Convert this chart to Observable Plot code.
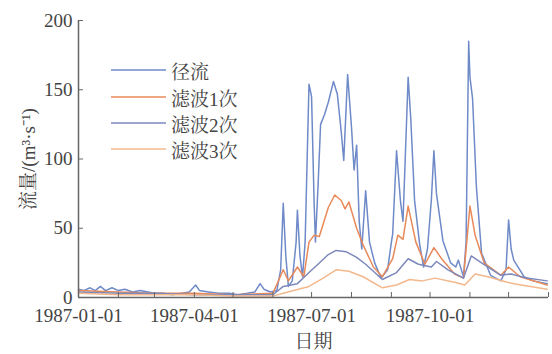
<!DOCTYPE html>
<html>
<head>
<meta charset="utf-8">
<script src="https://cdn.jsdelivr.net/npm/d3@7"></script>
<script src="https://cdn.jsdelivr.net/npm/@observablehq/plot@0.6"></script>
<style>
  html, body { margin: 0; padding: 0; background: #fff; }
  #wrap { position: relative; width: 552px; height: 354px; overflow: hidden; }
  #legend { position: absolute; left: 0; top: 0; width: 552px; font-family: 'Liberation Serif', 'Noto Serif CJK SC', serif; font-size: 19px; color: #444; }
  .item { position: absolute; display: flex; align-items: center; height: 24px; white-space: nowrap; }
  .item svg { margin-right: 5px; }
</style>
</head>
<body>
<div id="wrap"><div id="legend"></div></div>
<script>
// ---- data ----
const seriesNames = ["径流", "滤波1次", "滤波2次", "滤波3次"];
const seriesColors = ["#6f8ac8", "#e8895a", "#7d88bb", "#f3b88c"];

const runoffDates = ["1987-01-01","1987-01-05","1987-01-10","1987-01-14","1987-01-18","1987-01-22","1987-01-27","1987-02-01","1987-02-06","1987-02-12","1987-02-18","1987-02-24","1987-03-01","1987-03-08","1987-03-15","1987-03-22","1987-03-28","1987-04-02","1987-04-05","1987-04-12","1987-04-20","1987-04-28","1987-05-05","1987-05-12","1987-05-18","1987-05-22","1987-05-25","1987-05-30","1987-06-04","1987-06-07","1987-06-09","1987-06-11","1987-06-13","1987-06-16","1987-06-19","1987-06-20","1987-06-22","1987-06-24","1987-06-26","1987-06-29","1987-07-01","1987-07-03","1987-07-04","1987-07-06","1987-07-08","1987-07-11","1987-07-14","1987-07-18","1987-07-21","1987-07-24","1987-07-26","1987-07-29","1987-08-01","1987-08-03","1987-08-05","1987-08-07","1987-08-09","1987-08-12","1987-08-15","1987-08-19","1987-08-24","1987-08-29","1987-09-01","1987-09-02","1987-09-05","1987-09-08","1987-09-10","1987-09-14","1987-09-16","1987-09-19","1987-09-23","1987-09-26","1987-09-29","1987-10-02","1987-10-04","1987-10-06","1987-10-11","1987-10-17","1987-10-21","1987-10-23","1987-10-27","1987-10-29","1987-10-31","1987-11-01","1987-11-03","1987-11-06","1987-11-10","1987-11-17","1987-11-25","1987-11-29","1987-12-01","1987-12-03","1987-12-05","1987-12-13","1987-12-20","1987-12-31"];
const runoffValues = [6,5,7,5,8,5,7,5,6,4,5,4,3,3,2,3,4,9,5,4,3,3,2,3,4,10,6,4,5,20,68,30,8,12,40,63,30,15,40,154,145,68,40,80,125,132,141,156,147,120,99,161,123,92,110,55,35,77,40,25,14,20,40,46,106,70,55,159,130,70,38,22,35,70,106,75,41,25,22,27,15,40,185,159,144,80,32,16,12,20,56,35,27,15,12,10];

const filter1Dates = ["1987-01-01","1987-02-01","1987-03-01","1987-04-01","1987-05-01","1987-06-01","1987-06-09","1987-06-13","1987-06-20","1987-06-25","1987-06-29","1987-07-03","1987-07-07","1987-07-14","1987-07-19","1987-07-24","1987-07-27","1987-07-30","1987-08-05","1987-08-10","1987-08-18","1987-08-25","1987-09-02","1987-09-06","1987-09-10","1987-09-14","1987-09-20","1987-09-27","1987-10-04","1987-10-10","1987-10-20","1987-10-27","1987-11-01","1987-11-05","1987-11-12","1987-11-25","1987-12-01","1987-12-10","1987-12-31"];
const filter1Values = [5,4,3,3,2,3,20,12,22,15,40,45,44,65,74,70,64,69,50,38,22,15,28,45,42,66,40,24,36,28,17,14,66,45,25,16,22,15,9];

const filter2Dates = ["1987-01-01","1987-02-01","1987-03-01","1987-04-01","1987-05-01","1987-06-01","1987-06-09","1987-06-20","1987-06-29","1987-07-06","1987-07-14","1987-07-20","1987-07-28","1987-08-05","1987-08-12","1987-08-25","1987-09-05","1987-09-14","1987-09-22","1987-10-02","1987-10-06","1987-10-15","1987-10-27","1987-11-02","1987-11-10","1987-11-25","1987-12-03","1987-12-15","1987-12-31"];
const filter2Values = [4,3,3,2,2,2,8,10,18,24,31,34,33,29,24,13,18,28,24,22,26,20,14,30,25,16,17,14,12];

const filter3Dates = ["1987-01-01","1987-02-01","1987-03-01","1987-04-01","1987-05-01","1987-06-01","1987-06-09","1987-06-29","1987-07-10","1987-07-20","1987-07-30","1987-08-10","1987-08-25","1987-09-05","1987-09-15","1987-09-25","1987-10-05","1987-10-20","1987-10-28","1987-11-05","1987-11-15","1987-11-30","1987-12-05","1987-12-31"];
const filter3Values = [3,2,2,2,1,1,3,8,14,20,19,15,7,9,13,12,14,11,9,17,15,11,10,6];

const yTicks = [0, 50, 100, 150, 200];
const xLabelTicks = ["1987-01-01", "1987-04-01", "1987-07-01", "1987-10-01"];
const xDomain = ["1987-01-01", "1988-01-01"];
const xLabel = "日期";
const yLabel = "流量/(m³·s⁻¹)";

// ---- build ----
const parse = d3.utcParse("%Y-%m-%d");
const seriesDates = [runoffDates, filter1Dates, filter2Dates, filter3Dates];
const seriesValues = [runoffValues, filter1Values, filter2Values, filter3Values];
const data = seriesNames.flatMap((name, k) =>
  seriesDates[k].map((d, i) => ({date: parse(d), value: seriesValues[k][i], name})));
const monthTicks = d3.utcMonth.range(parse(xDomain[0]), d3.utcDay.offset(parse(xDomain[1]), 1));
const labelTicks = xLabelTicks.map(parse);

const font = "'Liberation Serif', 'Noto Serif CJK SC', serif";
const chart = Plot.plot({
  width: 552,
  height: 354,
  marginLeft: 78,
  marginRight: 4,
  marginTop: 20,
  marginBottom: 57,
  x: {type: "utc", domain: xDomain.map(parse)},
  y: {domain: [0, 200]},
  color: {domain: seriesNames, range: seriesColors},
  style: {fontFamily: font, fontSize: "19px", color: "#444", background: "white"},
  marks: [
    Plot.lineY(data, {x: "date", y: "value", stroke: "name", z: "name", strokeWidth: 1.5, curve: "linear"}),
    Plot.ruleX([parse(xDomain[0])], {stroke: "#666", strokeWidth: 1.5}),
    Plot.ruleY([0], {stroke: "#666", strokeWidth: 1.5}),
    Plot.axisX({ticks: monthTicks, tickSize: -5, tickFormat: () => "", stroke: "#666", label: null}),
    Plot.axisX({ticks: labelTicks, tickSize: 0, tickPadding: 11, tickFormat: d3.utcFormat("%Y-%m-%d"),
      label: xLabel, labelAnchor: "center", labelArrow: "none", labelOffset: 50, fontSize: 19, fontFamily: font}),
    Plot.axisY({ticks: yTicks, tickSize: -5, tickPadding: 11, stroke: "#666", fontFamily: font,
      label: yLabel, labelAnchor: "center", labelArrow: "none", labelOffset: 57, fontSize: 19})
  ]
});
document.getElementById("wrap").prepend(chart);

// legend overlay
const legend = document.getElementById("legend");
const rowY = [58, 85, 111, 137];
seriesNames.forEach((name, i) => {
  const item = document.createElement("div");
  item.className = "item";
  item.style.left = "111px";
  item.style.top = rowY[i] + "px";
  item.innerHTML = `<svg width="55" height="4"><line x1="0" y1="2" x2="55" y2="2" stroke="${seriesColors[i]}" stroke-width="1.6"/></svg><span>${name}</span>`;
  legend.appendChild(item);
});
</script>
</body>
</html>
